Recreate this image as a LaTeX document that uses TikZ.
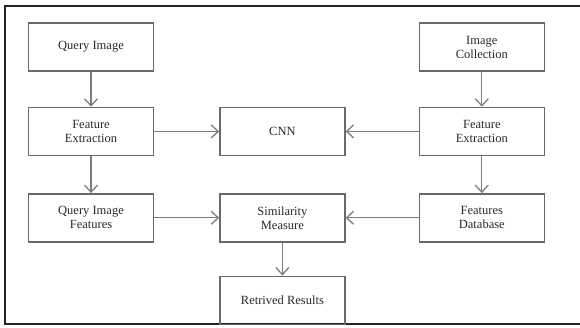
\documentclass[tikz,border=0pt]{standalone}
\usepackage{fontspec}
\setmainfont{Liberation Serif}
\usetikzlibrary{arrows.meta,positioning}
\definecolor{boxgray}{RGB}{105,105,105}
\definecolor{linegray}{RGB}{125,125,125}
\definecolor{textgray}{RGB}{40,40,40}
\definecolor{framegray}{RGB}{35,35,35}

\begin{document}
\begin{tikzpicture}[
    x=1pt, y=-1pt,
    node distance=35pt and 65pt,
    blk/.style={rectangle, draw=boxgray, line width=1.4pt, minimum width=125pt,
        minimum height=48pt, align=center, inner sep=2pt, text=textgray,
        font=\fontsize{12.5}{14}\selectfont},
    arr/.style={-{Straight Barb[length=7pt,width=13pt]}, draw=linegray, line width=1.3pt}
]
\useasboundingbox (0,0) rectangle (580,327);
% outer frame
\draw[framegray, line width=2pt] (600,5.5) -- (5,5.5) -- (5,324) -- (600,324);

\node[blk] (qimg) at (91,47) {Query Image};
\node[blk, below=of qimg] (fext1) {Feature\\Extraction};
\node[blk, below=37pt of fext1] (qfeat) {Query Image\\Features};
\node[blk, right=of fext1] (cnn) {CNN};
\node[blk, right=73pt of cnn] (fext2) {Feature\\Extraction};
\node[blk, above=of fext2] (icoll) {Image\\Collection};
\node[blk, below=37pt of fext2] (fdb) {Features\\Database};
\node[blk, right=of qfeat] (sim) {Similarity\\Measure};
\node[blk, below=33pt of sim] (res) {Retrived Results};

\draw[arr] (qimg) -- (fext1);
\draw[arr] (fext1) -- (qfeat);
\draw[arr] (fext1) -- (cnn);
\draw[arr] (icoll) -- (fext2);
\draw[arr] (fext2) -- (cnn);
\draw[arr] (fext2) -- (fdb);
\draw[arr] (qfeat) -- (sim);
\draw[arr] (fdb) -- (sim);
\draw[arr] (sim) -- (res);
\end{tikzpicture}
\end{document}
